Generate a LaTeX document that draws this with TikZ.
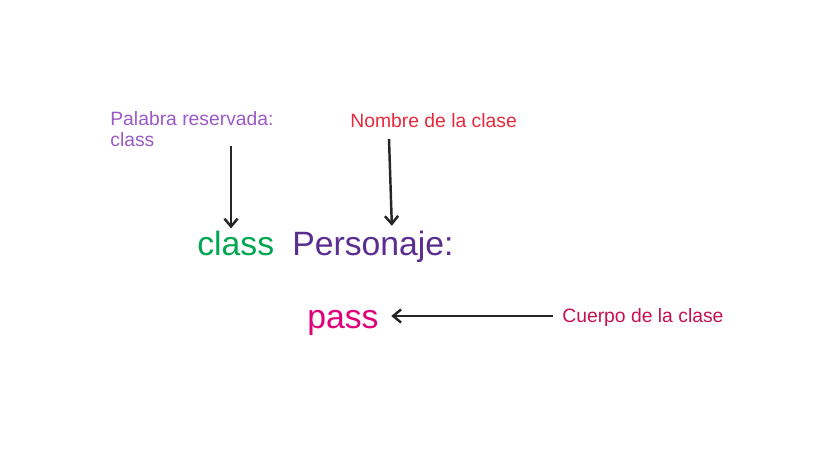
\documentclass[tikz,border=0pt]{standalone}
\usepackage{fontspec}
\setmainfont{Liberation Sans}
\usetikzlibrary{arrows.meta, positioning}

\definecolor{labelpurple}{HTML}{9B59C6}
\definecolor{labelred}{HTML}{E8283C}
\definecolor{labelcrimson}{HTML}{C8104F}
\definecolor{kwgreen}{HTML}{00A651}
\definecolor{namepurple}{HTML}{5B2D91}
\definecolor{bodypink}{HTML}{E0007A}

\begin{document}
\begin{tikzpicture}[x=0.02cm, y=-0.02cm]
\tikzset{
    labeltext/.style={inner sep=0pt, font=\fontsize{11}{12}\selectfont, align=left},
    codetext/.style={inner sep=0pt, font=\fontsize{19.2}{22}\selectfont},
    myarrow/.style={-{Straight Barb[length=4.5pt, width=7.5pt]}, line width=1.4pt, draw=black!85}
}
\useasboundingbox (0,0) rectangle (832,450);
% code line
\node[codetext, text=kwgreen, anchor=base west] (kw) at (197,255) {class};
\node[codetext, text=namepurple, anchor=base west] (clsname) at (292,255) {Personaje:};
\node[codetext, text=bodypink, anchor=base west] (body) at (307,328) {pass};
% labels
\node[labeltext, text=labelpurple, anchor=north west] (kw_lbl) at (110,111) {Palabra reservada:\\class};
\node[labeltext, text=labelred, anchor=base west] (name_lbl) at (350,127) {Nombre de la clase};
\node[labeltext, text=labelcrimson, anchor=base west] (body_lbl) at (562,322) {Cuerpo de la clase};
% arrows
\coordinate (kw_start) at (231,146);
\coordinate (name_start) at (389,139);
\coordinate (body_start) at (553,316);
\draw[myarrow, shorten >=1pt] (kw_start) -- (kw.north -| kw_start);
\draw[myarrow, shorten >=2.5pt] (name_start) -- (clsname.north -| 392,0);
\draw[myarrow, shorten >=7pt] (body_start) -- (body.east |- body_start);
\end{tikzpicture}
\end{document}
